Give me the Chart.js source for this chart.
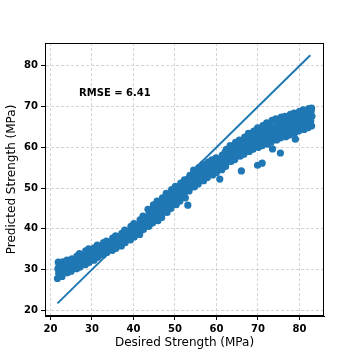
<!DOCTYPE html>
<html>
<head>
<meta charset="utf-8">
<script src="https://cdn.jsdelivr.net/npm/chart.js@4"></script>
<style>
  html, body { margin: 0; padding: 0; background: #fff; }
  #wrap { width: 360px; height: 360px; }
</style>
</head>
<body>
<div id="wrap"><canvas id="chart" width="360" height="360"></canvas></div>
<script>
// Valores (MPa): resistencia deseada vs. predicha
const desired = [
  21.7, 22.0, 21.8, 22.1, 21.9,
  22.8, 23.1, 22.9, 23.0,
  24.1, 23.9, 24.2, 24.0,
  25.0, 25.3, 24.9, 25.2,
  26.3, 26.0, 26.2, 26.4,
  27.1, 27.4, 27.2, 27.0,
  28.4, 28.1, 28.3, 28.5,
  29.3, 29.6, 29.4, 29.2,
  30.5, 30.2, 30.4, 30.6,
  31.4, 31.7, 31.5, 31.3,
  32.7, 32.4, 32.6, 32.8,
  33.6, 33.9, 33.7, 33.5,
  34.9, 34.6, 34.8, 35.0,
  35.8, 36.1, 35.9, 35.7,
  37.1, 36.8, 37.0, 37.2,
  38.0, 38.3, 38.1, 37.9,
  39.3, 39.0, 39.2, 39.4,
  40.2, 40.5, 40.3, 40.1,
  41.5, 41.2, 41.4, 41.6,
  42.4, 42.7, 42.5, 42.3,
  43.7, 43.4, 43.6, 43.8, 43.5,
  44.6, 44.9, 44.7, 44.5, 44.8,
  45.9, 45.6, 45.8, 46.0, 45.7,
  46.8, 47.1, 46.9, 46.7, 47.0,
  48.1, 47.8, 48.0, 48.2, 47.9,
  49.0, 49.3, 49.1, 48.9, 49.2,
  50.3, 50.0, 50.2, 50.4, 50.1,
  51.2, 51.5, 51.3, 51.1, 51.4,
  52.5, 52.2, 52.4, 52.6, 52.3,
  53.4, 53.7, 53.5, 53.3, 53.6, 53.1,
  54.7, 54.4, 54.6, 54.8, 54.5,
  55.6, 55.9, 55.7, 55.5, 55.8,
  56.9, 56.6, 56.8, 57.0, 56.7,
  57.8, 58.1, 57.9, 57.7, 58.0,
  59.1, 58.8, 59.0, 59.2, 58.9,
  60.0, 60.3, 60.1, 59.9, 60.8,
  61.3, 61.0, 61.2, 61.4,
  62.2, 62.5, 62.3, 62.1, 62.4,
  63.5, 63.2, 63.4, 63.6, 63.3,
  64.4, 64.7, 64.5, 64.3, 64.6,
  65.7, 65.4, 65.6, 65.8, 65.5, 66.0,
  66.6, 66.9, 66.7, 66.5, 66.8,
  67.9, 67.6, 67.8, 68.0, 67.7,
  68.8, 69.1, 68.9, 68.7, 69.0,
  70.1, 69.8, 70.0, 70.2, 69.9, 69.9,
  71.0, 71.3, 71.1, 70.9, 71.2, 71.0,
  72.3, 72.0, 72.2, 72.4, 72.1,
  73.2, 73.5, 73.3, 73.1, 73.4, 73.5,
  74.5, 74.2, 74.4, 74.6, 74.3,
  75.4, 75.7, 75.5, 75.3, 75.6, 75.4,
  76.7, 76.4, 76.6, 76.8, 76.5,
  77.6, 77.9, 77.7, 77.5, 77.8,
  78.9, 78.6, 78.8, 79.0, 78.7, 79.0,
  79.8, 80.1, 79.9, 79.7, 80.0,
  81.1, 80.8, 81.0, 81.2, 80.9,
  82.0, 82.3, 82.1, 81.9, 82.2,
  82.9, 82.7, 83.0, 82.8, 82.9
];
const predicted = [
  27.8, 29.0, 30.2, 31.0, 31.8,
  28.3, 29.6, 30.8, 31.9,
  29.2, 30.4, 31.5, 32.3,
  29.6, 30.8, 31.8, 32.6,
  30.2, 31.3, 32.4, 33.3,
  30.6, 31.8, 32.9, 33.9,
  31.2, 32.4, 33.5, 34.6,
  31.7, 32.9, 34.0, 35.1,
  32.3, 33.4, 34.4, 35.3,
  33.0, 34.0, 35.0, 36.0,
  33.6, 34.6, 35.6, 36.6,
  34.2, 35.1, 36.1, 37.0,
  34.7, 35.7, 36.7, 37.7,
  35.2, 36.2, 37.2, 38.3,
  35.8, 36.9, 37.9, 38.9,
  36.6, 37.6, 38.7, 39.7,
  37.3, 38.4, 39.5, 40.6,
  38.0, 39.1, 40.2, 41.3,
  38.6, 39.8, 41.0, 42.2,
  39.8, 40.9, 42.0, 43.1,
  40.6, 41.7, 42.8, 43.9, 44.8,
  41.4, 42.5, 43.7, 44.8, 45.9,
  42.0, 43.2, 44.4, 45.6, 46.8,
  42.8, 44.0, 45.2, 46.4, 47.6,
  44.0, 45.2, 46.4, 47.6, 48.7,
  45.0, 46.1, 47.3, 48.5, 49.6,
  45.9, 47.0, 48.1, 49.3, 50.4,
  46.8, 47.9, 49.0, 50.1, 51.2,
  47.6, 48.7, 49.8, 50.9, 52.0,
  49.3, 50.2, 51.2, 52.2, 53.1, 45.8,
  50.3, 51.4, 52.5, 53.6, 54.4,
  51.0, 52.0, 53.0, 54.1, 55.1,
  51.8, 52.8, 53.8, 54.8, 55.8,
  52.6, 53.5, 54.5, 55.4, 56.4,
  53.2, 54.1, 55.0, 56.0, 56.9,
  53.8, 55.0, 56.2, 57.4, 52.2,
  54.5, 55.7, 56.9, 58.1,
  55.3, 56.4, 57.6, 58.8, 59.5,
  56.5, 57.5, 58.6, 59.7, 60.4,
  57.0, 58.1, 59.2, 60.3, 61.2,
  57.8, 58.9, 60.0, 61.0, 61.8, 54.2,
  58.3, 59.4, 60.5, 61.6, 62.5,
  59.0, 60.1, 61.2, 62.3, 63.4,
  59.5, 60.6, 61.8, 62.9, 64.0,
  60.0, 61.2, 62.4, 63.6, 64.8, 55.6,
  60.4, 61.6, 62.8, 64.0, 65.3, 56.1,
  60.8, 62.0, 63.2, 64.5, 66.0,
  61.3, 62.5, 63.7, 65.0, 66.6, 59.6,
  61.8, 63.0, 64.2, 65.5, 67.0,
  62.3, 63.5, 64.7, 66.0, 67.4, 58.6,
  62.6, 63.8, 65.0, 66.3, 67.6,
  63.0, 64.2, 65.5, 66.8, 68.1,
  63.6, 64.8, 66.0, 67.2, 68.4, 62.0,
  64.0, 65.2, 66.4, 67.7, 68.8,
  64.4, 65.6, 66.8, 68.0, 69.2,
  64.8, 66.0, 67.2, 68.4, 69.5,
  65.2, 66.4, 67.6, 68.8, 69.6
];
// Línea ideal y = x
const idealLine = [21.7, 82.6];
const xTicks = [20, 30, 40, 50, 60, 70, 80];
const yTicks = [20, 30, 40, 50, 60, 70, 80];
const rmseText = 'RMSE = 6.41';
const rmsePos = [26.9, 73.2];

const azul = '#1f77b4';
const fuente = "'DejaVu Sans', sans-serif";

const puntos = desired.map((x, i) => ({ x: x, y: predicted[i] }));
const linea = idealLine.map(v => ({ x: v, y: v }));

// Marco completo y texto del RMSE
const marcoPlugin = {
    id: 'marco',
    afterDatasetsDraw(chart) {
        const { ctx, chartArea: a, scales } = chart;
        ctx.save();
        ctx.font = `bold 10px ${fuente}`;
        ctx.fillStyle = '#000';
        ctx.textBaseline = 'middle';
        ctx.textAlign = 'left';
        ctx.fillText(rmseText, scales.x.getPixelForValue(rmsePos[0]), scales.y.getPixelForValue(rmsePos[1]));
        ctx.strokeStyle = '#000';
        ctx.lineWidth = 1;
        ctx.strokeRect(Math.round(a.left) + 0.5, Math.round(a.top) + 0.5, Math.round(a.right - a.left) - 1, Math.round(a.bottom - a.top) - 1);
        ctx.restore();
    }
};

const ejeComun = (ticks, titulo) => ({
    type: 'linear',
    afterBuildTicks: s => { s.ticks = ticks.map(v => ({ value: v })); },
    grid: {
        color: '#d4d4d4',
        lineWidth: 1,
        tickLength: 4,
        tickColor: '#000',
        tickBorderDash: []
    },
    border: { display: true, color: '#000', dash: [3, 2] },
    ticks: {
        color: '#000',
        font: { family: fuente, size: 10, weight: 'bold' },
        padding: 3,
        maxRotation: 0,
        autoSkip: false
    },
    title: {
        display: true,
        text: titulo,
        color: '#000',
        font: { family: fuente, size: 12 }
    }
});

const xOpts = ejeComun(xTicks, 'Desired Strength (MPa)');
xOpts.min = 18.7; xOpts.max = 85.9;
xOpts.title.padding = { top: 4, bottom: 10 };
xOpts.afterFit = s => { s.height = 44; };

const yOpts = ejeComun(yTicks, 'Predicted Strength (MPa)');
yOpts.min = 18.6; yOpts.max = 85.6;
yOpts.title.padding = { top: 5, bottom: 4 };
yOpts.afterFit = s => { s.width = 45; };

new Chart(document.getElementById('chart'), {
    type: 'scatter',
    data: {
        datasets: [
            {
                label: 'Predicciones',
                data: puntos,
                backgroundColor: azul,
                borderWidth: 0,
                pointRadius: 3.6,
                pointHoverRadius: 3.6
            },
            {
                type: 'line',
                label: 'Ideal',
                data: linea,
                borderColor: azul,
                borderWidth: 2,
                pointRadius: 0,
                fill: false
            }
        ]
    },
    options: {
        responsive: false,
        animation: false,
        devicePixelRatio: 1,
        layout: { padding: { top: 43, right: 36, left: 0, bottom: 0 } },
        plugins: { legend: { display: false }, tooltip: { enabled: false } },
        scales: { x: xOpts, y: yOpts }
    },
    plugins: [marcoPlugin]
});
</script>
</body>
</html>
